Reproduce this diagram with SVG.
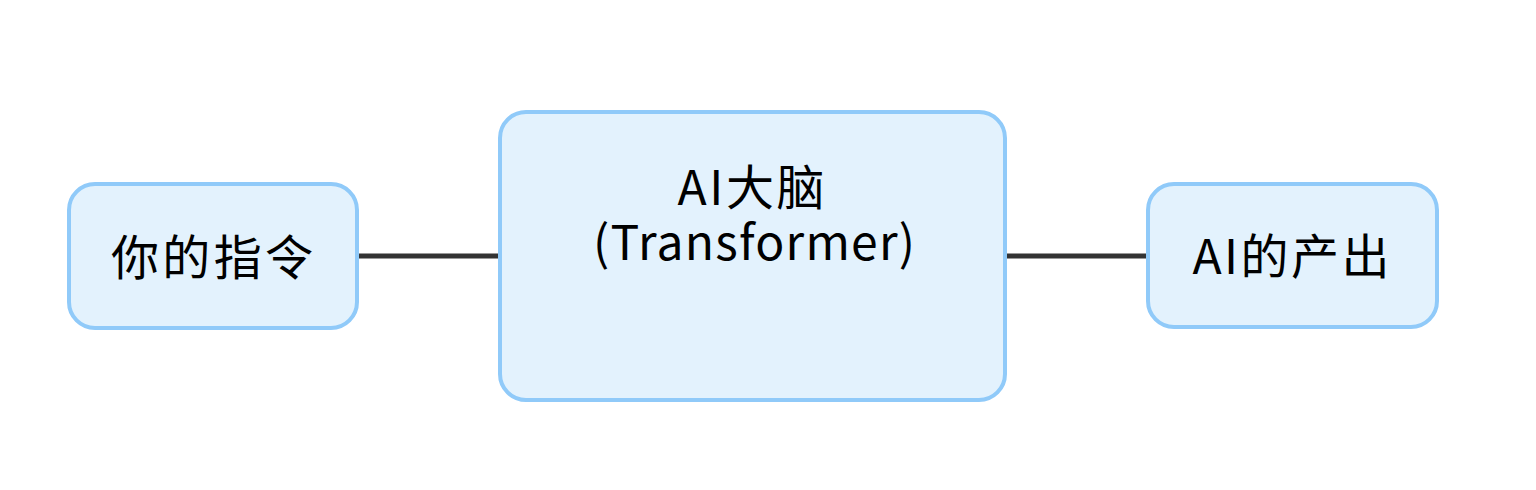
<svg xmlns="http://www.w3.org/2000/svg" width="1536" height="490" viewBox="0 0 1536 490">
<style>
.box{fill:#E3F2FD;stroke:#90CAF9;stroke-width:4}
.lbl{font-family:"Noto Sans CJK SC","Noto Sans",sans-serif;font-size:48px;fill:#000;text-anchor:middle}
.edge{stroke:#333;stroke-width:5;fill:none}
</style>
<rect width="1536" height="490" fill="#fff"/>
<g id="connectors">
<line class="edge" x1="358" y1="256" x2="500" y2="256"/>
<line class="edge" x1="1005" y1="256" x2="1148" y2="256"/>
</g>
<g id="node-input">
<rect class="box" x="69" y="184" width="288" height="144" rx="26"/>
<text class="lbl" x="212" y="275" textLength="202" lengthAdjust="spacing">你的指令</text>
</g>
<g id="node-brain">
<rect class="box" x="500" y="112" width="505" height="288" rx="26"/>
<text class="lbl"><tspan x="751" y="205" textLength="147" lengthAdjust="spacing">AI大脑</tspan><tspan x="754" y="260" textLength="322" lengthAdjust="spacing">(Transformer)</tspan></text>
</g>
<g id="node-output">
<rect class="box" x="1148" y="184" width="289" height="143" rx="26"/>
<text class="lbl" x="1291" y="274" textLength="197" lengthAdjust="spacing">AI的产出</text>
</g>
</svg>
